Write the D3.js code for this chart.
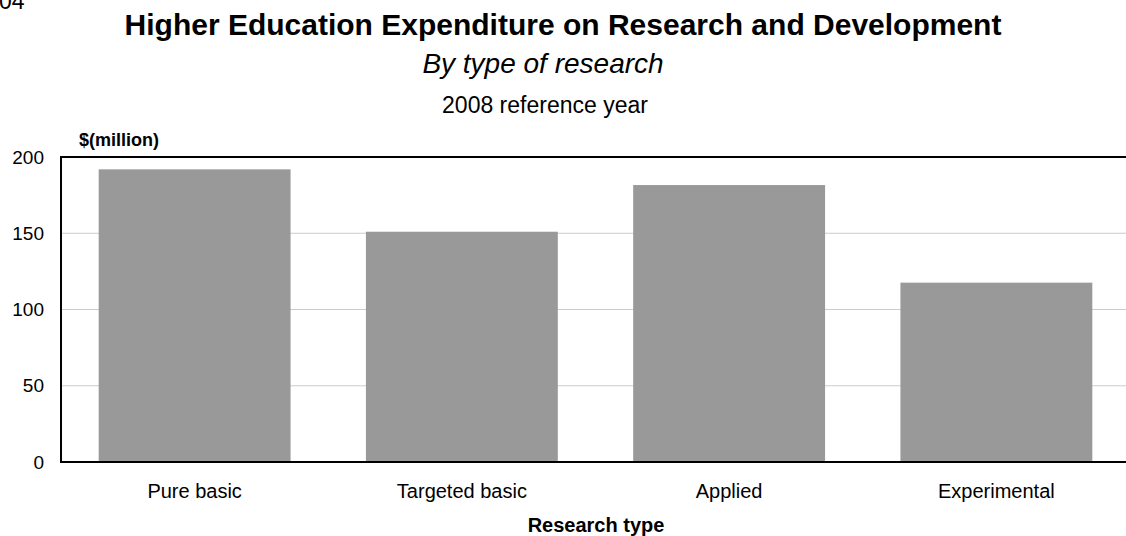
<!DOCTYPE html>
<html>
<head>
<meta charset="utf-8">
<script src="https://cdn.jsdelivr.net/npm/d3@7"></script>
<style>
  html, body { margin: 0; padding: 0; background: #fff; overflow: hidden; }
  svg { display: block; font-family: "Liberation Sans", Arial, sans-serif; }
</style>
</head>
<body>
<svg id="chart" width="1126" height="536"></svg>
<script>
// Higher education R&D expenditure by type of research, 2008
const categories = ["Pure basic", "Targeted basic", "Applied", "Experimental"];
const values = [191.9, 151.0, 181.6, 117.6];
const yTicks = [0, 50, 100, 150, 200];

const svg = d3.select("#chart");
const margin = { left: 61, right: -4, top: 157, bottom: 74 };
const W = 1126, H = 536;

const x = d3.scaleBand()
  .domain(categories)
  .range([margin.left, W - margin.right])
  .paddingInner(0.282)
  .paddingOuter(0.141);

const y = d3.scaleLinear()
  .domain([0, 200])
  .range([H - margin.bottom, margin.top]);

// Gridlines
svg.append("g")
  .selectAll("line")
  .data(yTicks.filter(d => d > 0 && d < 200))
  .join("line")
  .attr("x1", margin.left).attr("x2", W)
  .attr("y1", d => y(d)).attr("y2", d => y(d))
  .attr("stroke", "#cccccc").attr("stroke-width", 1);

// Bars
svg.append("g")
  .selectAll("rect")
  .data(values)
  .join("rect")
  .attr("x", (d, i) => x(categories[i]))
  .attr("width", x.bandwidth())
  .attr("y", d => y(d))
  .attr("height", d => y(0) - y(d))
  .attr("fill", "#999999");

// Frame: left axis, top and bottom lines
svg.append("line")
  .attr("x1", margin.left).attr("x2", W)
  .attr("y1", y(200)).attr("y2", y(200))
  .attr("stroke", "#000").attr("stroke-width", 2);
svg.append("line")
  .attr("x1", margin.left).attr("x2", W)
  .attr("y1", y(0)).attr("y2", y(0))
  .attr("stroke", "#000").attr("stroke-width", 2);
svg.append("line")
  .attr("x1", margin.left).attr("x2", margin.left)
  .attr("y1", y(200) - 1).attr("y2", y(0) + 1)
  .attr("stroke", "#000").attr("stroke-width", 2);

// Y axis labels
const yAxis = d3.axisLeft(y).tickValues(yTicks).tickSize(0).tickPadding(17);
const gy = svg.append("g")
  .attr("transform", `translate(${margin.left},0)`)
  .call(yAxis);
gy.select(".domain").remove();
gy.selectAll("text")
  .attr("font-family", "Liberation Sans, Arial, sans-serif")
  .attr("font-size", 19).attr("fill", "#000");

// X axis labels
const xAxis = d3.axisBottom(x).tickSize(0).tickPadding(22);
const gx = svg.append("g")
  .attr("transform", `translate(0,${y(0)})`)
  .call(xAxis);
gx.select(".domain").remove();
gx.selectAll("text")
  .attr("font-family", "Liberation Sans, Arial, sans-serif")
  .attr("font-size", 20).attr("fill", "#000");

// Titles
svg.append("text")
  .attr("x", -1).attr("y", 9)
  .attr("font-size", 23).text("04");
svg.append("text")
  .attr("x", 563).attr("y", 35)
  .attr("text-anchor", "middle")
  .attr("font-size", 30).attr("font-weight", "bold")
  .text("Higher Education Expenditure on Research and Development");
svg.append("text")
  .attr("x", 543).attr("y", 73)
  .attr("text-anchor", "middle")
  .attr("font-size", 28).attr("font-style", "italic")
  .text("By type of research");
svg.append("text")
  .attr("x", 545).attr("y", 113)
  .attr("text-anchor", "middle")
  .attr("font-size", 23)
  .text("2008 reference year");
svg.append("text")
  .attr("x", 79).attr("y", 146)
  .attr("font-size", 18).attr("font-weight", "bold")
  .text("$(million)");
svg.append("text")
  .attr("x", 596).attr("y", 532)
  .attr("text-anchor", "middle")
  .attr("font-size", 20).attr("font-weight", "bold")
  .text("Research type");
</script>
</body>
</html>
